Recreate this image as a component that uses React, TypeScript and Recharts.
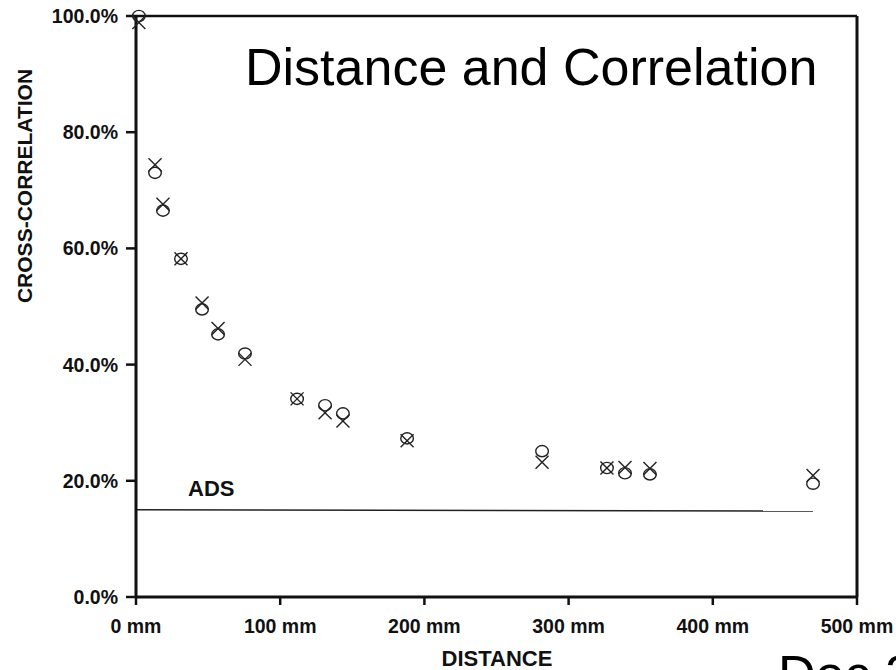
import { ScatterChart, Scatter, XAxis, YAxis, ReferenceLine } from 'recharts';

// distances in mm, values in % cross-correlation
const distances = [2, 13.2, 18.7, 31.2, 45.8, 56.9, 75.6, 111.7, 131.1, 143.5, 188, 281.6, 326.6, 339.1, 356.4, 469.5];
const crossValues = [98.9, 74.4, 67.6, 58.2, 50.6, 46.2, 40.9, 34.1, 31.7, 30.3, 26.9, 23.2, 22.2, 22.3, 22.1, 20.9];
const circleValues = [100, 73.0, 66.5, 58.2, 49.5, 45.2, 41.9, 34.1, 33.0, 31.6, 27.3, 25.1, 22.2, 21.3, 21.1, 19.5];

const adsDistances = [0, 469.5];
const adsValues = [15.0, 14.8];

const xTicks = [0, 100, 200, 300, 400, 500];
const yTicks = [0, 20, 40, 60, 80, 100];

const crossData = distances.map((x, i) => ({ x, y: crossValues[i] }));
const circleData = distances.map((x, i) => ({ x, y: circleValues[i] }));

const FONT = '"Liberation Sans", Arial, sans-serif';
const INK = '#111';

const tickStyle = { fontSize: 19.5, fontWeight: 700, fill: INK, fontFamily: FONT };

function CrossMark(props: any) {
  const { cx, cy } = props;
  if (cx == null || cy == null) return null;
  const r = 6.5;
  return (
    <g stroke="#222" strokeWidth={1.4}>
      <line x1={cx - r} y1={cy - r} x2={cx + r} y2={cy + r} />
      <line x1={cx - r} y1={cy + r} x2={cx + r} y2={cy - r} />
    </g>
  );
}

function CircleMark(props: any) {
  const { cx, cy } = props;
  if (cx == null || cy == null) return null;
  return <ellipse cx={cx} cy={cy} rx={6.3} ry={5.6} fill="none" stroke="#222" strokeWidth={1.4} />;
}

export default function App() {
  return (
    <div style={{ position: 'absolute', left: 0, top: 0, width: 896, height: 670, overflow: 'hidden', background: '#fff' }}>
      <ScatterChart width={896} height={670} margin={{ top: 16, right: 39, bottom: 0, left: 0 }}>
        <XAxis
          type="number"
          dataKey="x"
          domain={[0, 500]}
          ticks={xTicks}
          tickFormatter={(v: number) => `${v} mm`}
          height={73}
          tick={tickStyle}
          tickSize={8}
          tickMargin={14}
          axisLine={{ stroke: INK, strokeWidth: 3 }}
          tickLine={{ stroke: INK, strokeWidth: 2.5 }}
        />
        <YAxis
          type="number"
          dataKey="y"
          domain={[0, 100]}
          ticks={yTicks}
          tickFormatter={(v: number) => `${v.toFixed(1)}%`}
          width={136}
          tick={tickStyle}
          tickSize={10}
          tickMargin={8}
          axisLine={{ stroke: INK, strokeWidth: 3 }}
          tickLine={{ stroke: INK, strokeWidth: 2.5 }}
        />
        <ReferenceLine
          segment={[
            { x: adsDistances[0], y: adsValues[0] },
            { x: adsDistances[1], y: adsValues[1] },
          ]}
          stroke="#222"
          strokeWidth={1.5}
        />
        <Scatter name="cross" data={crossData} shape={CrossMark} isAnimationActive={false} />
        <Scatter name="circle" data={circleData} shape={CircleMark} isAnimationActive={false} />
        <ReferenceLine y={100} stroke={INK} strokeWidth={2.5} />
        <ReferenceLine x={500} stroke={INK} strokeWidth={3} />
      </ScatterChart>
      <svg width={896} height={670} style={{ position: 'absolute', left: 0, top: 0, pointerEvents: 'none' }}>
        <text x={245} y={85} fontFamily={FONT} fontSize={52} fill="#000">
          Distance and Correlation
        </text>
        <text x={188} y={496} fontFamily={FONT} fontSize={22} fontWeight={700} fill={INK}>
          ADS
        </text>
        <text x={497} y={666} textAnchor="middle" fontFamily={FONT} fontSize={22} fontWeight={700} fill={INK}>
          DISTANCE
        </text>
        <text
          x={24}
          y={186}
          textAnchor="middle"
          dominantBaseline="central"
          transform="rotate(-90 24 186)"
          fontFamily={FONT}
          fontSize={21}
          fontWeight={700}
          fill={INK}
        >
          CROSS-CORRELATION
        </text>
        <text x={778} y={692} fontFamily={FONT} fontSize={52} fill="#000">
          Dec 2
        </text>
      </svg>
    </div>
  );
}
